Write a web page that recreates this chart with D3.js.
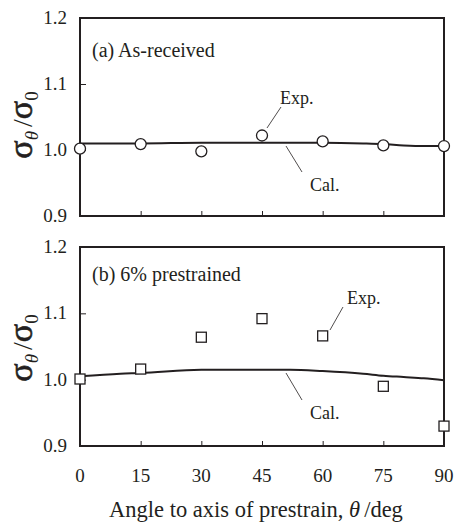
<!DOCTYPE html>
<html>
<head>
<meta charset="utf-8">
<script src="https://cdn.jsdelivr.net/npm/d3@7"></script>
<style>
  body { margin: 0; background: #fff; }
</style>
</head>
<body>
<div id="content"></div>
<script>
var angles = [0, 15, 30, 45, 60, 75, 90];
var expA = [1.002, 1.009, 0.998, 1.022, 1.013, 1.007, 1.006];
var expB = [1.001, 1.016, 1.064, 1.092, 1.066, 0.990, 0.930];

var calAngles = [0, 10, 15, 30, 45, 52, 60, 70, 75, 80, 85, 90];
var calA = [1.010, 1.010, 1.010, 1.011, 1.011, 1.011, 1.011, 1.010, 1.009, 1.007, 1.006, 1.006];
var calB = [1.005, 1.009, 1.010, 1.015, 1.015, 1.015, 1.013, 1.009, 1.006, 1.004, 1.002, 0.999];

var yTicks = [0.9, 1.0, 1.1, 1.2];
var xTicks = [0, 15, 30, 45, 60, 75, 90];

var ink = "#231f20";
var font = "'Liberation Serif', 'Times New Roman', serif";
var w = 454, h = 523;
var svg = d3.select("#content").append("svg")
    .attr("width", w)
    .attr("height", h);

function txt(sel, size) {
  return sel.append("text")
    .attr("font-family", font)
    .attr("font-size", size)
    .attr("fill", ink);
}

var x = d3.scaleLinear().domain([0, 90]).range([80, 444]);

var panels = [
  {label: "(a) As-received", top: 18, bottom: 216, exp: expA, cal: calA, marker: "circle",
   exp_txt: [280, 104], exp_line: [[281, 107], [267, 128]],
   cal_txt: [310, 191], cal_line: [[286, 146], [302, 172]], labelY: 57, titleY: 125},
  {label: "(b) 6% prestrained", top: 247, bottom: 446, exp: expB, cal: calB, marker: "square",
   exp_txt: [347, 304], exp_line: [[343, 307], [330, 330]],
   cal_txt: [310, 419], cal_line: [[286, 373], [302, 400]], labelY: 281, titleY: 348}
];

panels.forEach(function(p) {
  var y = d3.scaleLinear().domain([0.9, 1.2]).range([p.bottom, p.top]);
  var g = svg.append("g");

  // inward ticks
  g.append("g")
    .attr("transform", "translate(0," + p.bottom + ")")
    .call(d3.axisBottom(x).tickValues(xTicks.slice(1, -1)).tickSizeInner(-5).tickSizeOuter(0).tickFormat(""))
    .call(function(a) { a.select(".domain").remove(); a.selectAll("line").attr("stroke", ink).attr("stroke-width", 1); });

  g.append("g")
    .attr("transform", "translate(80,0)")
    .call(d3.axisLeft(y).tickValues([1.0, 1.1]).tickSizeInner(-6).tickSizeOuter(0).tickFormat(""))
    .call(function(a) { a.select(".domain").remove(); a.selectAll("line").attr("stroke", ink).attr("stroke-width", 1); });

  // y tick labels
  yTicks.forEach(function(d) {
    txt(g, 19)
      .attr("x", 67)
      .attr("y", y(d) + 6)
      .attr("text-anchor", "end")
      .text(d.toFixed(1));
  });

  // calculated curve
  g.append("path")
    .datum(calAngles.map(function(a, i) { return [a, p.cal[i]]; }))
    .attr("fill", "none")
    .attr("stroke", ink)
    .attr("stroke-width", 2)
    .attr("d", d3.line().curve(d3.curveMonotoneX)
      .x(function(d) { return x(d[0]); })
      .y(function(d) { return y(d[1]); }));

  // frame
  g.append("rect")
    .attr("x", 80).attr("y", p.top)
    .attr("width", 364).attr("height", p.bottom - p.top)
    .attr("fill", "none").attr("stroke", ink).attr("stroke-width", 2);

  // experimental points
  var pts = angles.map(function(a, i) { return [a, p.exp[i]]; });
  if (p.marker === "circle") {
    g.selectAll(".pt").data(pts).enter().append("circle")
      .attr("cx", function(d) { return x(d[0]); })
      .attr("cy", function(d) { return y(d[1]); })
      .attr("r", 5.5)
      .attr("fill", "#fff").attr("stroke", ink).attr("stroke-width", 1.3);
  } else {
    g.selectAll(".pt").data(pts).enter().append("rect")
      .attr("x", function(d) { return x(d[0]) - 5; })
      .attr("y", function(d) { return y(d[1]) - 5; })
      .attr("width", 10).attr("height", 10)
      .attr("fill", "#fff").attr("stroke", ink).attr("stroke-width", 1.3);
  }

  // panel label
  txt(g, 20).attr("x", 92).attr("y", p.labelY).text(p.label);

  // annotations
  txt(g, 18).attr("x", p.exp_txt[0]).attr("y", p.exp_txt[1]).text("Exp.");
  g.append("line")
    .attr("x1", p.exp_line[0][0]).attr("y1", p.exp_line[0][1])
    .attr("x2", p.exp_line[1][0]).attr("y2", p.exp_line[1][1])
    .attr("stroke", ink).attr("stroke-width", 0.8);
  txt(g, 18).attr("x", p.cal_txt[0]).attr("y", p.cal_txt[1]).text("Cal.");
  g.append("line")
    .attr("x1", p.cal_line[0][0]).attr("y1", p.cal_line[0][1])
    .attr("x2", p.cal_line[1][0]).attr("y2", p.cal_line[1][1])
    .attr("stroke", ink).attr("stroke-width", 0.8);

  // y title
  var t = txt(g, 34)
    .attr("transform", "translate(32," + p.titleY + ") rotate(-90)")
    .attr("text-anchor", "middle")
    .attr("stroke", ink).attr("stroke-width", 0.6);
  t.append("tspan").text("σ");
  t.append("tspan").attr("font-size", 19).attr("font-style", "italic").attr("stroke-width", 0).attr("dy", 6).text("θ");
  t.append("tspan").attr("dy", -6).attr("dx", 4).attr("font-size", 28).attr("stroke-width", 0).text("/");
  t.append("tspan").text("σ");
  t.append("tspan").attr("font-size", 19).attr("stroke-width", 0).attr("dy", 6).text("0");
});

// x tick labels
xTicks.forEach(function(d) {
  txt(svg, 19)
    .attr("x", x(d))
    .attr("y", 482)
    .attr("text-anchor", "middle")
    .text(d);
});

// x title
var xt = txt(svg, 22.5)
  .attr("x", 256).attr("y", 517)
  .attr("text-anchor", "middle");
xt.append("tspan").text("Angle to axis of prestrain, ");
xt.append("tspan").attr("font-style", "italic").text("θ");
xt.append("tspan").attr("dx", 4).text("/deg");
</script>
</body>
</html>
